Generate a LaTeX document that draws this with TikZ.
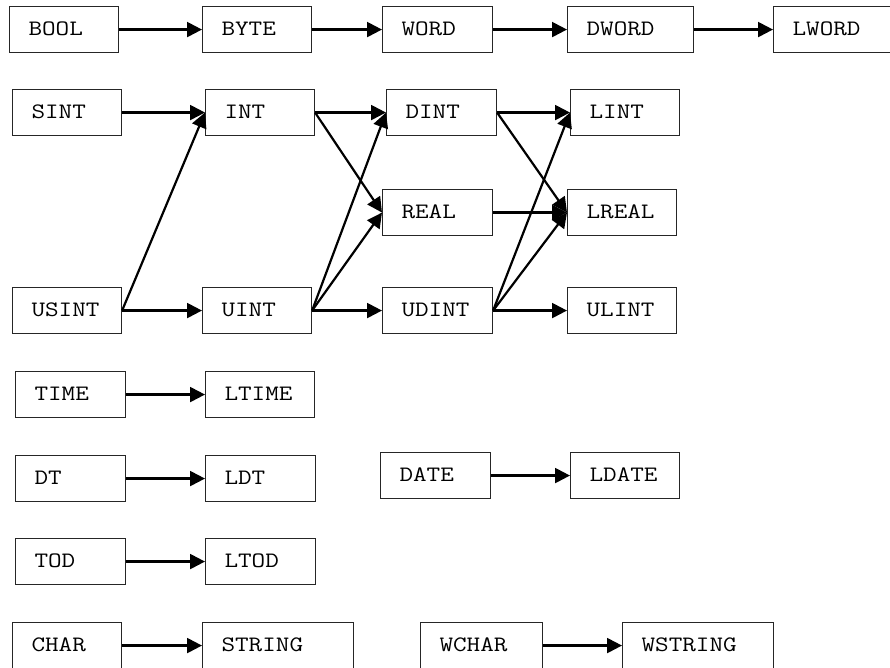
\documentclass[tikz,border=0pt]{standalone}
\usepackage{fontspec}
\newfontfamily\typefont{Latin Modern Mono}[FakeStretch=1.2]
\usetikzlibrary{arrows.meta}

\begin{document}
\begin{tikzpicture}[x=1pt, y=-1pt,
  tbox/.style={draw=black!85, line width=1.1pt, anchor=north west,
    minimum height=46pt, inner xsep=19pt, inner ysep=0pt,
    text width=#1, align=left, text height=18pt, text depth=6.8pt,
    font=\typefont\fontsize{22}{26}\selectfont},
  conv/.style={line width=2.2pt, -{Triangle[length=15pt 0 0, width=15pt 0 0]}}]
\useasboundingbox (0,0) rectangle (890,667);
\clip (0,0) rectangle (890,667);

% bit strings
\node[tbox=71pt] (bool)  at (9,6)   {BOOL};
\node[tbox=71pt] (byte)  at (202,6) {BYTE};
\node[tbox=72pt] (word)  at (382,6) {WORD};
\node[tbox=88pt] (dword) at (567,6) {DWORD};
\node[tbox=88pt] (lword) at (773,6) {LWORD};

% signed integers and reals
\node[tbox=71pt] (sint)  at (12,89)  {SINT};
\node[tbox=71pt] (int)   at (205,89) {INT};
\node[tbox=72pt] (dint)  at (386,89) {DINT};
\node[tbox=71pt] (lint)  at (570,89) {LINT};
\node[tbox=72pt] (real)  at (382,189) {REAL};
\node[tbox=71pt] (lreal) at (567,189) {LREAL};

% unsigned integers
\node[tbox=71pt] (usint) at (12,287)  {USINT};
\node[tbox=71pt] (uint)  at (202,287) {UINT};
\node[tbox=72pt] (udint) at (382,287) {UDINT};
\node[tbox=71pt] (ulint) at (567,287) {ULINT};

% time and date types
\node[tbox=72pt] (time)  at (15,371)  {TIME};
\node[tbox=71pt] (ltime) at (205,371) {LTIME};
\node[tbox=72pt] (dt)    at (15,455)  {DT};
\node[tbox=72pt] (ldt)   at (205,455) {LDT};
\node[tbox=72pt] (date)  at (380,452) {DATE};
\node[tbox=71pt] (ldate) at (570,452) {LDATE};
\node[tbox=72pt] (tod)   at (15,538)  {TOD};
\node[tbox=72pt] (ltod)  at (205,538) {LTOD};

% characters and strings
\node[tbox=71pt]  (char)    at (12,622)  {CHAR};
\node[tbox=113pt] (string)  at (202,622) {STRING};
\node[tbox=84pt]  (wchar)   at (420,622) {WCHAR};
\node[tbox=113pt] (wstring) at (622,622) {WSTRING};

% widening conversions
\draw[conv] (bool.east)  -- (byte.west);
\draw[conv] (byte.east)  -- (word.west);
\draw[conv] (word.east)  -- (dword.west);
\draw[conv] (dword.east) -- (lword.west);

\draw[conv] (sint.east)  -- (int.west);
\draw[conv] (usint.east) -- (int.west);
\draw[conv] (usint.east) -- (uint.west);

\draw[conv] (int.east)   -- (dint.west);
\draw[conv] (int.east)   -- (real.west);
\draw[conv] (uint.east)  -- (dint.west);
\draw[conv] (uint.east)  -- (real.west);
\draw[conv] (uint.east)  -- (udint.west);

\draw[conv] (dint.east)  -- (lint.west);
\draw[conv] (dint.east)  -- (lreal.west);
\draw[conv] (real.east)  -- (lreal.west);
\draw[conv] (udint.east) -- (lint.west);
\draw[conv] (udint.east) -- (lreal.west);
\draw[conv] (udint.east) -- (ulint.west);

\draw[conv] (time.east)  -- (ltime.west);
\draw[conv] (dt.east)    -- (ldt.west);
\draw[conv] (date.east)  -- (ldate.west);
\draw[conv] (tod.east)   -- (ltod.west);
\draw[conv] (char.east)  -- (string.west);
\draw[conv] (wchar.east) -- (wstring.west);
\end{tikzpicture}
\end{document}
